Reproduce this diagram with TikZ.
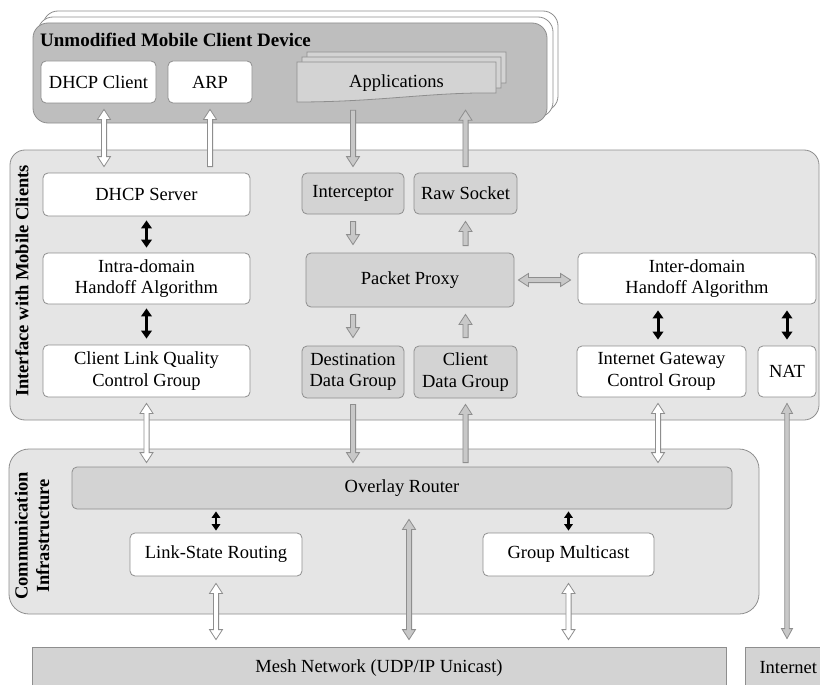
\documentclass[tikz,border=0pt]{standalone}
\usepackage{fontspec}
\setmainfont{Liberation Serif}
\usetikzlibrary{calc,arrows.meta}

\definecolor{lineg}{HTML}{8E8E8E}
\definecolor{devg}{HTML}{BEBEBE}
\definecolor{paneg}{HTML}{E5E5E5}
\definecolor{boxg}{HTML}{D3D3D3}
\definecolor{arrg}{HTML}{C8C8C8}
\newcommand{\txt}{\fontsize{18.5}{21.5}\selectfont}
\newcommand{\hdtxt}{\fontsize{19}{21.5}\selectfont\bfseries}

\tikzset{
  box/.style={draw=lineg, line width=0.8pt, rounded corners=5pt, align=center,
    font=\txt, inner sep=0pt},
  wbox/.style={box, fill=white},
  gbox/.style={box, fill=boxg},
  pane/.style={draw=lineg, line width=0.8pt, fill=paneg},
  title/.style={font=\txt\bfseries, inner sep=0pt},
  % block arrows drawn as outlined polygons between two points
  arrs/.store in=\ArrS, arre/.store in=\ArrE, arrs=6pt, arre=6pt,
  arrw/.store in=\ArrW, arrh/.store in=\ArrH, arrl/.store in=\ArrL,
  arrw=2.6pt, arrh=6.5pt, arrl=10pt,
  oneway/.style={draw=lineg, line width=0.8pt, to path={
    let \p1=($(\tikztostart)!\ArrS!(\tikztotarget)$),
        \p2=($(\tikztotarget)!\ArrE!(\tikztostart)$),
        \n1={atan2(\y2-\y1,\x2-\x1)},
        \p3=($(\p2)!\ArrL!(\p1)$)
    in ($(\p1)+({\n1+90}:\ArrW)$) -- ($(\p3)+({\n1+90}:\ArrW)$)
       -- ($(\p3)+({\n1+90}:\ArrH)$) -- (\p2)
       -- ($(\p3)+({\n1-90}:\ArrH)$) -- ($(\p3)+({\n1-90}:\ArrW)$)
       -- ($(\p1)+({\n1-90}:\ArrW)$) -- cycle}},
  twoway/.style={draw=lineg, line width=0.8pt, to path={
    let \p1=($(\tikztostart)!\ArrS!(\tikztotarget)$),
        \p2=($(\tikztotarget)!\ArrE!(\tikztostart)$),
        \n1={atan2(\y2-\y1,\x2-\x1)},
        \p3=($(\p2)!\ArrL!(\p1)$),
        \p4=($(\p1)!\ArrL!(\p2)$)
    in ($(\p4)+({\n1+90}:\ArrW)$) -- ($(\p3)+({\n1+90}:\ArrW)$)
       -- ($(\p3)+({\n1+90}:\ArrH)$) -- (\p2)
       -- ($(\p3)+({\n1-90}:\ArrH)$) -- ($(\p3)+({\n1-90}:\ArrW)$)
       -- ($(\p4)+({\n1-90}:\ArrW)$) -- ($(\p4)+({\n1-90}:\ArrH)$)
       -- (\p1) -- ($(\p4)+({\n1+90}:\ArrH)$) -- cycle}},
  hollow/.style={fill=white},
  grey/.style={fill=arrg},
  solid2/.style={draw=black, line width=3pt,
    {Triangle[width=10.5pt,length=8pt]}-{Triangle[width=10.5pt,length=8pt]}},
  solid2s/.style={draw=black, line width=2.6pt,
    {Triangle[width=8.5pt,length=6.5pt]}-{Triangle[width=8.5pt,length=6.5pt]}},
}

\begin{document}
\begin{tikzpicture}[x=1pt,y=-1pt]
\useasboundingbox (0,0) rectangle (820,685);
\fill[white] (0,0) rectangle (820,685);
\clip (0,0) rectangle (820,685);

% ---------------- mobile client device ----------------
\draw[fill=white, draw=lineg, line width=0.8pt, rounded corners=15pt]
  (43,11) rectangle (558,111);
\draw[fill=white, draw=lineg, line width=0.8pt, rounded corners=15pt]
  (38,17) rectangle (553,117);
\draw[fill=devg, draw=lineg, line width=0.8pt, rounded corners=15pt]
  (33,23) rectangle (547,123);
\node[font=\hdtxt, inner sep=0pt, anchor=west] (devtitle) at (40,40) {Unmodified Mobile Client Device};

\node[wbox, minimum width=115pt, minimum height=42pt] (dhcpc) at (98.5,82) {DHCP Client};
\node[wbox, minimum width=84pt, minimum height=42pt] (arp) at (210,82) {ARP};

% stacked application pages
\foreach \dx/\dy in {10/-10, 5/-5, 0/0} {
  \draw[fill=boxg, draw=lineg, line width=0.8pt]
    (297+\dx,62+\dy) -- (496+\dx,62+\dy) -- (496+\dx,93+\dy)
    .. controls (430+\dx,92+\dy) and (380+\dx,102+\dy) .. (297+\dx,102+\dy) -- cycle;
}
\node[font=\txt, inner sep=0pt, minimum width=199pt, minimum height=36pt] (apps) at (396.5,83) {Applications};

% ---------------- interface with mobile clients ----------------
\draw[pane, rounded corners=15pt] (10,150) rectangle (819,420);
\node[title, rotate=90] (iflabel) at (22,281) {Interface with Mobile Clients};

\node[wbox, minimum width=207pt, minimum height=43pt] (dhcps) at (146.5,194.5) {DHCP Server};
\node[wbox, minimum width=207pt, minimum height=51pt] (intra) at (146.5,278.5) {Intra-domain\\Handoff Algorithm};
\node[wbox, minimum width=207pt, minimum height=52pt] (clq) at (146.5,371) {Client Link Quality\\Control Group};

\node[gbox, minimum width=102pt, minimum height=41pt] (intc) at (353,193.5) {Interceptor};
\node[gbox, minimum width=103pt, minimum height=41pt] (raws) at (465.5,193.5) {Raw Socket};
\node[gbox, minimum width=208pt, minimum height=54pt] (proxy) at (410,280) {Packet Proxy};
\node[gbox, minimum width=102pt, minimum height=52pt] (ddg) at (353,372) {Destination\\Data Group};
\node[gbox, minimum width=103pt, minimum height=52pt] (cdg) at (465.5,372) {Client\\Data Group};

\node[wbox, minimum width=238pt, minimum height=51pt] (inter) at (697,278.5) {Inter-domain\\Handoff Algorithm};
\node[wbox, minimum width=169pt, minimum height=51pt] (igcg) at (661.5,371.5) {Internet Gateway\\Control Group};
\node[wbox, minimum width=58pt, minimum height=51pt] (nat) at (787,371.5) {NAT};

% ---------------- communication infrastructure ----------------
\draw[pane, rounded corners=20pt] (9,449) rectangle (759,614);
\node[title, rotate=90, align=center] (cilabel) at (32,536) {Communication\\Infrastructure};

\node[gbox, minimum width=660pt, minimum height=42pt] (ovr) at (402,488) {Overlay Router};
\node[wbox, minimum width=172pt, minimum height=43pt] (lsr) at (216,554.5) {Link-State Routing};
\node[wbox, minimum width=171pt, minimum height=43pt] (gm) at (568.5,554.5) {Group Multicast};

% ---------------- networks ----------------
\node[box, fill=boxg, rounded corners=0pt, minimum width=694pt, minimum height=42pt] (mesh) at (379,668) {Mesh Network (UDP/IP Unicast)};
\node[box, fill=boxg, rounded corners=0pt, minimum width=90pt, minimum height=42pt, text width=85pt, align=left] (inet) at (790,668) {\hspace*{12pt}Internet};

% ---------------- connectors: device <-> interface ----------------
\draw[twoway, hollow, arrs=6pt, arre=6pt]
  ([xshift=5.5pt]dhcpc.south) to ([xshift=5.5pt]dhcpc.south |- dhcps.north);
\draw[oneway, hollow, arrs=6pt, arre=6pt]
  (arp.south |- dhcps.north) to (arp.south);
\draw[oneway, grey, arrs=9pt, arre=6pt]
  (intc.north |- apps.south) to (intc.north);
\draw[oneway, grey, arrs=6pt, arre=9pt]
  (raws.north) to (raws.north |- apps.south);

% ---------------- connectors inside the interface ----------------
\draw[solid2, shorten <=4pt, shorten >=5pt] (dhcps.south) -- (intra.north);
\draw[solid2, shorten <=4pt, shorten >=6pt] (intra.south) -- (clq.north);

\draw[oneway, grey, arrs=7pt, arre=8pt] (intc.south) to (intc.south |- proxy.north);
\draw[oneway, grey, arrs=7pt, arre=7pt] (raws.south |- proxy.north) to (raws.south);
\draw[oneway, grey, arrs=7pt, arre=8pt] (ddg.north |- proxy.south) to (ddg.north);
\draw[oneway, grey, arrs=8pt, arre=7pt] (cdg.north) to (cdg.north |- proxy.south);
\draw[twoway, grey, arrs=4pt, arre=7pt] (proxy.east) to (proxy.east -| inter.west);

\draw[solid2, shorten <=6pt, shorten >=6pt] ([xshift=-3.5pt]igcg.north |- inter.south) -- ([xshift=-3.5pt]igcg.north);
\draw[solid2, shorten <=6pt, shorten >=6pt] (nat.north |- inter.south) -- (nat.north);

% ---------------- connectors: interface <-> infrastructure ----------------
\draw[twoway, hollow, arrs=6pt, arre=4pt] (clq.south) to (clq.south |- ovr.north);
\draw[oneway, grey, arrs=6pt, arre=4pt] (ddg.south) to (ddg.south |- ovr.north);
\draw[oneway, grey, arrs=4pt, arre=6pt] (cdg.south |- ovr.north) to (cdg.south);
\draw[twoway, hollow, arrs=6pt, arre=4pt] ([xshift=-3.5pt]igcg.south) to ([xshift=-3.5pt]igcg.south |- ovr.north);
\draw[twoway, grey, arrs=6pt, arre=8pt, arrw=2.2pt, arrh=5.5pt] (nat.south) to (nat.south |- inet.north);

% ---------------- connectors inside the infrastructure ----------------
\draw[solid2s, shorten <=2pt, shorten >=2pt] (ovr.south -| lsr.north) -- (lsr.north);
\draw[solid2s, shorten <=2pt, shorten >=2pt] (ovr.south -| gm.north) -- (gm.north);
\draw[twoway, grey, arrs=10pt, arre=7pt] ([xshift=7pt]ovr.south) to ([xshift=7pt]ovr.south |- mesh.north);
\draw[twoway, hollow, arrs=7pt, arre=7pt] (lsr.south) to (lsr.south |- mesh.north);
\draw[twoway, hollow, arrs=7pt, arre=7pt] (gm.south) to (gm.south |- mesh.north);
\end{tikzpicture}
\end{document}
